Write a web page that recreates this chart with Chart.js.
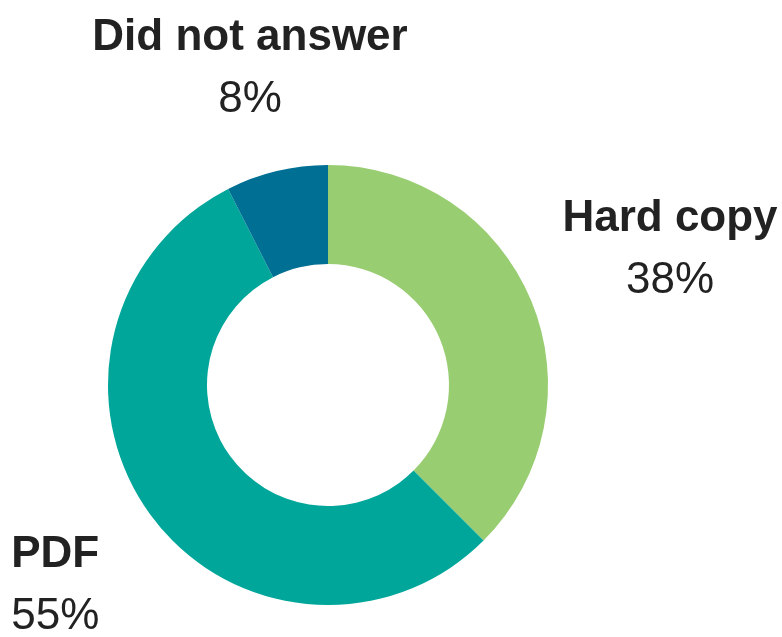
<!DOCTYPE html>
<html lang="en">
<head>
    <meta charset="UTF-8">
    <title>Format of responses</title>
    <script src="https://cdn.jsdelivr.net/npm/chart.js"></script>
    <style>
        html, body { margin: 0; padding: 0; background: #ffffff; }
        #wrap { width: 782px; height: 637px; }
    </style>
</head>
<body>
    <div id="wrap">
        <canvas id="donutChart" width="782" height="637"></canvas>
    </div>
    <script>
        // chart data
        var categories = ['Hard copy', 'PDF', 'Did not answer'];
        var shares = [37.5, 55, 7.5];
        var shareLabels = ['38%', '55%', '8%'];
        var sliceColors = ['#98cd72', '#00a69a', '#006f94'];

        // where each label sits, in multiples of the outer radius from the centre
        var labelPlaces = [
            { ax: 1.5545, ay: -0.7, align: 'center' },
            { ax: -1.44, ay: 0.827, align: 'left' },
            { ax: -0.3545, ay: -1.5227, align: 'center' }
        ];

        var outsideLabels = {
            id: 'outsideLabels',
            afterDraw: function (chart) {
                var ctx = chart.ctx;
                var meta = chart.getDatasetMeta(0);
                ctx.save();
                ctx.fillStyle = '#222222';
                ctx.textBaseline = 'alphabetic';
                meta.data.forEach(function (arc, i) {
                    var place = labelPlaces[i];
                    var x = arc.x + place.ax * arc.outerRadius;
                    var y = arc.y + place.ay * arc.outerRadius;
                    ctx.textAlign = place.align;
                    ctx.font = 'bold 44px "Liberation Sans", Arial, sans-serif';
                    ctx.fillText(categories[i], x, y);
                    ctx.font = '44px "Liberation Sans", Arial, sans-serif';
                    ctx.fillText(shareLabels[i], x, y + 62);
                });
                ctx.restore();
            }
        };

        var ctx = document.getElementById('donutChart').getContext('2d');
        new Chart(ctx, {
            type: 'doughnut',
            data: {
                labels: categories,
                datasets: [{
                    data: shares,
                    backgroundColor: sliceColors,
                    borderWidth: 0,
                    hoverOffset: 0
                }]
            },
            options: {
                responsive: false,
                animation: false,
                cutout: '55%',
                layout: {
                    padding: { left: 108, right: 234, top: 165, bottom: 32 }
                },
                plugins: {
                    legend: { display: false },
                    tooltip: { enabled: false }
                }
            },
            plugins: [outsideLabels]
        });
    </script>
</body>
</html>
